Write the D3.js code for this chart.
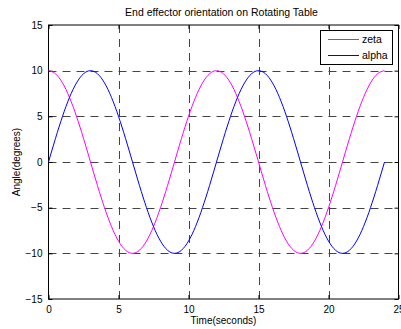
<!DOCTYPE html>
<html>
<head>
<meta charset="utf-8">
<script src="https://cdn.jsdelivr.net/npm/d3@7"></script>
<style>
  body { margin: 0; background: #fff; }
  svg { display: block; font-family: "Liberation Sans", Arial, sans-serif; }
</style>
</head>
<body>
<div id="chart"></div>
<script>
// time samples (seconds)
const time = [0, 0.5, 1, 1.5, 2, 2.5, 3, 3.5, 4, 4.5, 5, 5.5, 6, 6.5, 7, 7.5, 8, 8.5, 9, 9.5,
  10, 10.5, 11, 11.5, 12, 12.5, 13, 13.5, 14, 14.5, 15, 15.5, 16, 16.5, 17, 17.5, 18, 18.5,
  19, 19.5, 20, 20.5, 21, 21.5, 22, 22.5, 23, 23.5, 24]

const zeta = [10, 9.66, 8.66, 7.07, 5, 2.59, 0, -2.59, -5, -7.07, -8.66, -9.66, -10,
  -9.66, -8.66, -7.07, -5, -2.59, 0, 2.59, 5, 7.07, 8.66, 9.66, 10,
  9.66, 8.66, 7.07, 5, 2.59, 0, -2.59, -5, -7.07, -8.66, -9.66, -10,
  -9.66, -8.66, -7.07, -5, -2.59, 0, 2.59, 5, 7.07, 8.66, 9.66, 10]

const alpha = [0, 2.59, 5, 7.07, 8.66, 9.66, 10, 9.66, 8.66, 7.07, 5, 2.59, 0,
  -2.59, -5, -7.07, -8.66, -9.66, -10, -9.66, -8.66, -7.07, -5, -2.59, 0,
  2.59, 5, 7.07, 8.66, 9.66, 10, 9.66, 8.66, 7.07, 5, 2.59, 0,
  -2.59, -5, -7.07, -8.66, -9.66, -10, -9.66, -8.66, -7.07, -5, -2.59, 0]

const xTicks = [0, 5, 10, 15, 20, 25]
const yTicks = [-15, -10, -5, 0, 5, 10, 15]
const seriesNames = ['zeta', 'alpha']
const seriesColors = ['#ff00ff', '#0000ff']

draw()

function draw() {
    const W = 401, H = 329
    const mLeft = 48.5, mRight = 398.5, mTop = 25, mBottom = 299
    const font = 'Liberation Sans, Arial, sans-serif'

    const svg = d3.select('#chart').append('svg')
        .attr('width', W)
        .attr('height', H)

    const xScale = d3.scaleLinear().domain([0, 25]).range([mLeft, mRight])
    const yScale = d3.scaleLinear().domain([-15, 15]).range([mBottom, mTop])

    // grid
    const grid = svg.append('g')
        .attr('stroke', '#444')
        .attr('stroke-width', 1)
        .attr('stroke-dasharray', '8,6')
        .attr('fill', 'none')
    xTicks.slice(1, -1).forEach(t => {
        const px = Math.round(xScale(t)) + 0.5
        grid.append('line')
            .attr('x1', px).attr('x2', px)
            .attr('y1', mTop).attr('y2', mBottom)
    })
    yTicks.slice(1, -1).forEach(t => {
        const py = Math.round(yScale(t)) + 0.5
        grid.append('line')
            .attr('y1', py).attr('y2', py)
            .attr('x1', mLeft).attr('x2', mRight)
    })

    // axes, ticks inside like matlab
    const xAxis = d3.axisBottom(xScale).tickValues(xTicks).tickSizeInner(-4).tickSizeOuter(0).tickPadding(7)
    const yAxis = d3.axisLeft(yScale).tickValues(yTicks).tickSizeInner(-4).tickSizeOuter(0).tickPadding(6)

    svg.append('g')
        .attr('transform', 'translate(0,' + mBottom + ')')
        .call(xAxis)
        .call(g => g.select('.domain').remove())
        .selectAll('text').attr('font-size', 10).attr('font-family', font).attr('fill', '#000')

    svg.append('g')
        .attr('transform', 'translate(' + mLeft + ',0)')
        .call(yAxis)
        .call(g => g.select('.domain').remove())
        .selectAll('text').attr('font-size', 10).attr('font-family', font).attr('fill', '#000')

    // top and right ticks
    svg.append('g')
        .attr('transform', 'translate(0,' + mTop + ')')
        .call(d3.axisTop(xScale).tickValues(xTicks).tickSizeInner(-4).tickSizeOuter(0).tickFormat(''))
        .call(g => g.select('.domain').remove())
    svg.append('g')
        .attr('transform', 'translate(' + mRight + ',0)')
        .call(d3.axisRight(yScale).tickValues(yTicks).tickSizeInner(-4).tickSizeOuter(0).tickFormat(''))
        .call(g => g.select('.domain').remove())

    // box
    svg.append('rect')
        .attr('x', mLeft).attr('y', mTop)
        .attr('width', mRight - mLeft).attr('height', mBottom - mTop)
        .attr('fill', 'none')
        .attr('stroke', '#000')
        .attr('stroke-width', 1)

    // curves
    const line = d3.line()
        .x((d, i) => xScale(time[i]))
        .y(d => yScale(d))
        .curve(d3.curveMonotoneX)

    const series = [zeta, alpha]
    series.forEach((s, i) => {
        svg.append('path')
            .attr('d', line(s))
            .attr('fill', 'none')
            .attr('stroke', seriesColors[i])
            .attr('stroke-width', 1)
    })

    // legend
    const lg = svg.append('g')
    lg.append('rect')
        .attr('x', 320.5).attr('y', 30.5)
        .attr('width', 72).attr('height', 34)
        .attr('fill', '#fff')
        .attr('stroke', '#000')
        .attr('stroke-width', 1)
    seriesNames.forEach((name, i) => {
        const ly = 39.5 + i * 16
        lg.append('line')
            .attr('x1', 328).attr('x2', 359)
            .attr('y1', ly).attr('y2', ly)
            .attr('stroke', seriesColors[i])
            .attr('stroke-width', 1)
        lg.append('text')
            .attr('x', 362).attr('y', ly + 3.5)
            .attr('font-size', 10.5)
            .text(name)
    })

    // title and labels
    svg.append('text')
        .attr('x', (mLeft + mRight) / 2 - 2).attr('y', 16)
        .attr('text-anchor', 'middle')
        .attr('font-size', 10.5)
        .text('End effector orientation on Rotating Table')

    svg.append('text')
        .attr('x', (mLeft + mRight) / 2).attr('y', 324)
        .attr('text-anchor', 'middle')
        .attr('font-size', 10)
        .text('Time(seconds)')

    svg.append('text')
        .attr('transform', 'translate(20,' + (mTop + mBottom) / 2 + ') rotate(-90)')
        .attr('text-anchor', 'middle')
        .attr('font-size', 10)
        .text('Angle(degrees)')
}
</script>
</body>
</html>
